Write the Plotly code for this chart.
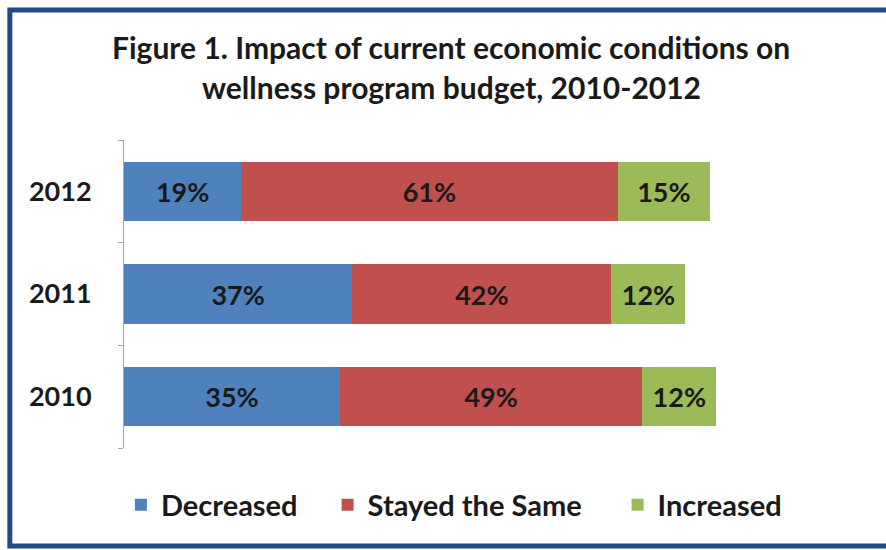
import plotly.graph_objects as go

years = ["2010", "2011", "2012"]
decreased = [35, 37, 19]
stayed = [49, 42, 61]
increased = [12, 12, 15]
series_names = ["Decreased", "Stayed the Same", "Increased"]
colors = ["#4F81BD", "#C0504D", "#9BBB59"]
title_lines = ["Figure 1. Impact of current economic conditions on",
               "wellness program budget, 2010-2012"]

FONT = "Lato"
TXT = "#1a1a1a"
legend_ids = ["legend", "legend2", "legend3"]
legend_x = [-0.005, 0.330, 0.800]

fig = go.Figure()
for name, vals, col, lid in zip(series_names, [decreased, stayed, increased], colors, legend_ids):
    fig.add_trace(go.Bar(
        y=years, x=vals, name=name, orientation="h", legend=lid,
        marker=dict(color=col, line=dict(width=0)),
        text=[f"{v}%" for v in vals], textposition="inside",
        insidetextanchor="middle", textangle=0, constraintext="none",
        insidetextfont=dict(family=FONT, size=27, color=TXT, weight="bold"),
        hoverinfo="skip",
    ))

legend_common = dict(orientation="h", xanchor="left", y=-0.185, yanchor="middle",
                     font=dict(family=FONT, size=29, color=TXT, weight="bold"),
                     itemclick=False, bgcolor="rgba(0,0,0,0)")

fig.update_layout(
    barmode="stack", bargap=0.425,
    width=886, height=550,
    margin=dict(l=124, r=145, t=140, b=102),
    paper_bgcolor="white", plot_bgcolor="white",
    font=dict(family=FONT, color=TXT),
    xaxis=dict(visible=False, range=[0, 100], fixedrange=True),
    yaxis=dict(type="category", range=[-0.5, 2.5], showline=True, linecolor="#A6A6A6",
               linewidth=1, ticks="outside", tickson="boundaries", ticklen=5,
               tickcolor="#A6A6A6", showgrid=False, ticklabelstandoff=26,
               fixedrange=True,
               tickfont=dict(family=FONT, size=27, color=TXT, weight="bold")),
    legend=dict(x=legend_x[0], **legend_common),
    legend2=dict(x=legend_x[1], **legend_common),
    legend3=dict(x=legend_x[2], **legend_common),
    showlegend=True,
)

ys = [1.302, 1.172]
for line, yy in zip(title_lines, ys):
    fig.add_annotation(text=line, xref="paper", yref="paper", x=0.53, y=yy,
                       xanchor="center", yanchor="middle", showarrow=False,
                       font=dict(family=FONT, size=30, color=TXT, weight="bold"))

fig.add_shape(type="rect", xref="paper", yref="paper",
              x0=-0.185, x1=1.35, y0=-0.318, y1=1.422,
              line=dict(color="#1F4A86", width=5), fillcolor="rgba(0,0,0,0)")

fig.write_html("out.html", config={"displayModeBar": False},
               post_script="document.body.style.margin='0';")
